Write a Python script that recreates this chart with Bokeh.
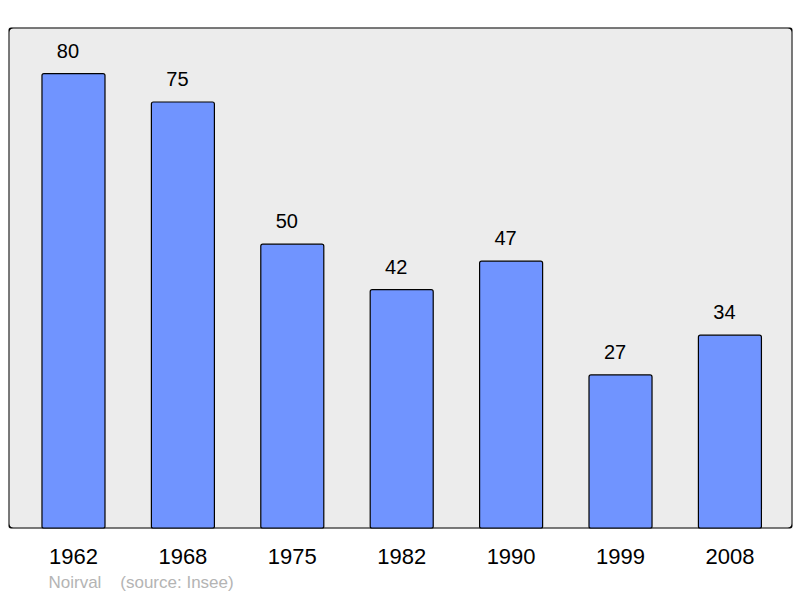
from bokeh.plotting import figure
from bokeh.models import Range1d, FixedTicker, Title, ColumnDataSource, BoxAnnotation
from bokeh.core.properties import value
from bokeh.embed import file_html
from bokeh.resources import INLINE

years = ["1962", "1968", "1975", "1982", "1990", "1999", "2008"]
population = [80, 75, 50, 42, 47, 27, 34]
xpos = list(range(len(years)))

src = ColumnDataSource(dict(x=xpos, top=population, lbl=[str(v) for v in population]))

p = figure(width=800, height=598, output_backend="svg", toolbar_location=None,
           x_range=Range1d(-0.594, 6.572), y_range=Range1d(0, 88.1),
           min_border_left=8, min_border_right=8, min_border_top=27, min_border_bottom=70)
p.background_fill_color = "#ececec"
p.border_fill_color = "white"
p.outline_line_color = None
p.grid.visible = False
p.yaxis.visible = False

p.vbar(x="x", top="top", width=0.576, bottom=0, source=src,
       fill_color="#7094ff", line_color="black", line_width=1.2, border_radius=2)

p.text(x="x", y="top", text="lbl", source=src, text_align="center",
       text_baseline="alphabetic", y_offset=-23, x_offset=-5.5, text_font_size="20px",
       text_color="black", text_font=value("Liberation Sans"))

frame_box = BoxAnnotation(fill_color=None, fill_alpha=0, line_color="black", line_alpha=1,
                          line_width=2, border_radius=5, level="overlay")
p.add_layout(frame_box)

ax = p.xaxis[0]
ax.ticker = FixedTicker(ticks=xpos)
ax.major_label_overrides = {i: y for i, y in enumerate(years)}
ax.major_label_text_font_size = "22px"
ax.major_label_text_font = "Liberation Sans"
ax.major_label_text_color = "black"
ax.major_label_standoff = 14
ax.axis_line_color = None
ax.major_tick_line_color = None
ax.minor_tick_line_color = None

t = Title(text="Noirval\u00a0\u00a0\u00a0\u00a0(source: Insee)", align="left", offset=40,
          text_font_size="17px", text_font="Liberation Sans", text_color="#b4b4b4",
          text_font_style="normal", standoff=9)
p.add_layout(t, "below")

open("out.html", "w").write(file_html(p, INLINE))
